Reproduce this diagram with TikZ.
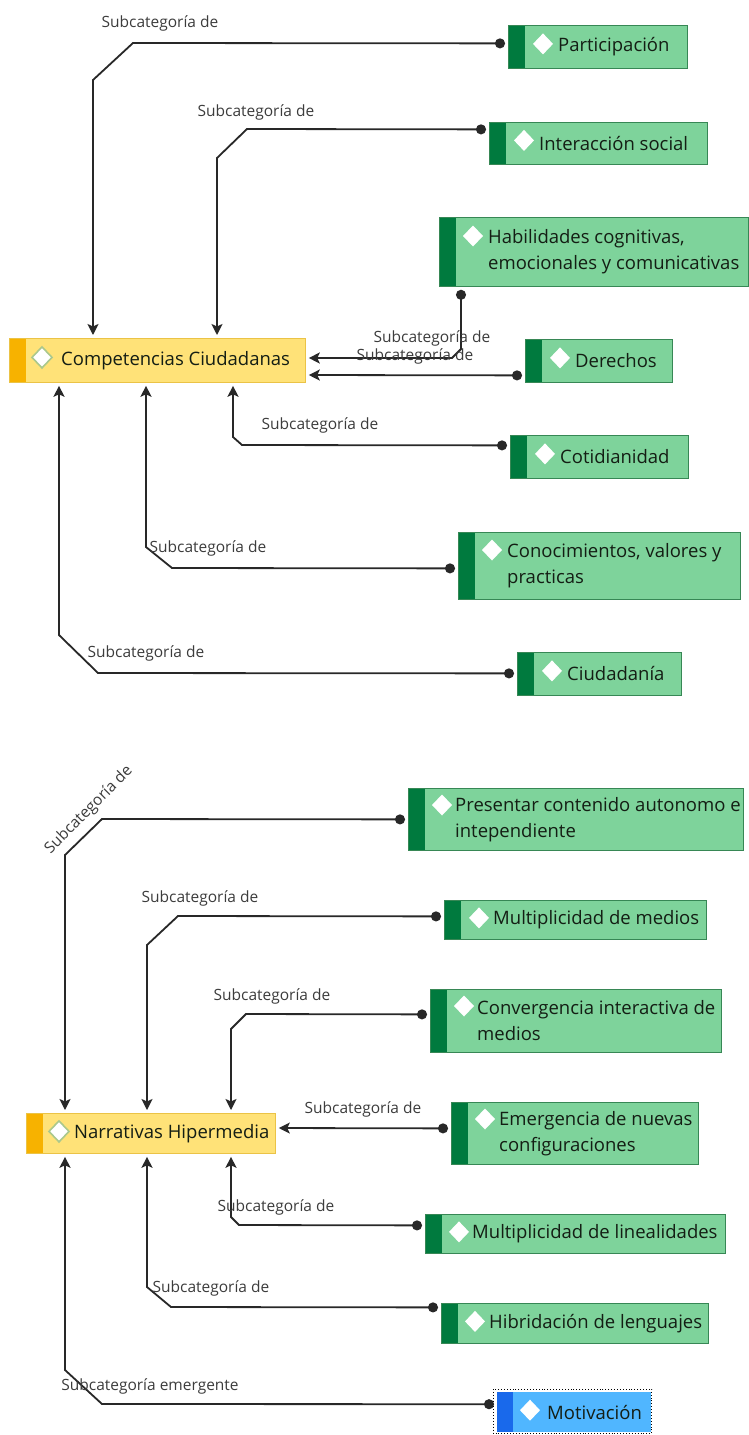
\documentclass[tikz,border=0pt]{standalone}
\usepackage{fontspec}
\setmainfont{Open Sans}
\usetikzlibrary{arrows.meta}
\definecolor{gfill}{RGB}{126,211,155}
\definecolor{gstripe}{RGB}{0,122,62}
\definecolor{gline}{RGB}{55,135,85}
\definecolor{yfill}{RGB}{255,226,120}
\definecolor{ystripe}{RGB}{247,178,0}
\definecolor{yline}{RGB}{235,195,70}
\definecolor{bfill}{RGB}{80,182,255}
\definecolor{bstripe}{RGB}{25,105,235}
\definecolor{tcol}{RGB}{20,30,20}
\definecolor{lcol}{RGB}{60,60,60}
\definecolor{ccol}{RGB}{40,40,40}
\definecolor{dline}{RGB}{170,200,140}
\tikzset{
  basebox/.style={rectangle, inner sep=0pt, anchor=north west},
  gbox/.style={basebox, draw=gline, line width=0.8pt, fill=gfill,
    path picture={\fill[gstripe] (path picture bounding box.north west) rectangle ([xshift=17pt]path picture bounding box.south west);}},
  ybox/.style={basebox, draw=yline, line width=0.8pt, fill=yfill,
    path picture={\fill[ystripe] (path picture bounding box.north west) rectangle ([xshift=17pt]path picture bounding box.south west);}},
  bbox/.style={basebox, fill=bfill,
    path picture={\fill[bstripe] (path picture bounding box.north west) rectangle ([xshift=16pt]path picture bounding box.south west);}},
  txt/.style={anchor=west, inner sep=0pt, align=left, text=tcol, font=\fontsize{18.5}{26}\selectfont},
  lab/.style={inner sep=1pt, text=lcol, font=\fontsize{15.5}{18}\selectfont},
  con/.style={draw=ccol, line width=1.8pt, {Circle[length=10pt]}-{Stealth[length=11pt,width=11pt,inset=2.5pt]}, shorten <=3pt, shorten >=3pt},
  dw/.pic={\fill[white] (-10pt,0pt)--(0pt,10.5pt)--(10pt,0pt)--(0pt,-10.5pt)--cycle;},
  dy/.pic={\filldraw[fill=white, draw=dline, line width=1.6pt] (-10pt,0pt)--(0pt,10.5pt)--(10pt,0pt)--(0pt,-10.5pt)--cycle;},
}
\begin{document}
\begin{tikzpicture}[x=1pt,y=-1pt]
\useasboundingbox (0,0) rectangle (749,1435);
\fill[white] (0,0) rectangle (749,1435);

% ---------- top group ----------
\node[ybox, minimum width=296pt, minimum height=44pt] (comp) at (9,338) {};
\pic at ([xshift=33pt,yshift=3pt]comp.west) {dy};
\node[txt] (tcomp) at ([xshift=52pt]comp.west) {Competencias Ciudadanas};

\node[gbox, minimum width=179pt, minimum height=43pt] (par) at (508,25) {};
\pic at ([xshift=35pt,yshift=3pt]par.west) {dw};
\node[txt] (tpar) at ([xshift=50pt]par.west) {Participación};

\node[gbox, minimum width=218pt, minimum height=42pt] (int) at (489,122) {};
\pic at ([xshift=35pt,yshift=3pt]int.west) {dw};
\node[txt] (tint) at ([xshift=50pt]int.west) {Interacción social};

\node[gbox, minimum width=309pt, minimum height=69pt] (hab) at (439,217) {};
\pic at ([xshift=34pt,yshift=-19pt]hab.north west) {dw};
\node[txt] (thab) at ([xshift=49pt]hab.west) {Habilidades cognitivas,\\emocionales y comunicativas};

\node[gbox, minimum width=147pt, minimum height=43pt] (der) at (525,339) {};
\pic at ([xshift=35pt,yshift=3pt]der.west) {dw};
\node[txt] (tder) at ([xshift=50pt]der.west) {Derechos};

\node[gbox, minimum width=178pt, minimum height=43pt] (cot) at (510,435) {};
\pic at ([xshift=35pt,yshift=3pt]cot.west) {dw};
\node[txt] (tcot) at ([xshift=50pt]cot.west) {Cotidianidad};

\node[gbox, minimum width=282pt, minimum height=67pt] (con) at (458,532) {};
\pic at ([xshift=34pt,yshift=-18pt]con.north west) {dw};
\node[txt] (tcon) at ([xshift=49pt]con.west) {Conocimientos, valores y\\practicas};

\node[gbox, minimum width=164pt, minimum height=43pt] (ciu) at (517,652) {};
\pic at ([xshift=35pt,yshift=3pt]ciu.west) {dw};
\node[txt] (tciu) at ([xshift=50pt]ciu.west) {Ciudadanía};

\draw[con] ([yshift=3.5pt]par.west) -- (133,43) -- (93,80) -- ([xshift=84pt]comp.north west);
\draw[con] ([yshift=14pt]int.west) -- (247,129) -- (217,158) -- ([xshift=208pt]comp.north west);
\draw[con] ([xshift=22pt]hab.south west) -- (461,349) -- (452,358) -- ([yshift=-20pt]comp.north east);
\draw[con] ([yshift=-14.5pt]der.west) -- ([yshift=-37pt]comp.north east);
\draw[con] ([yshift=11.5pt]cot.west) -- (242,445) -- (233,437) -- ([xshift=224pt]comp.south west);
\draw[con] ([yshift=-2.5pt]con.west) -- (172,568) -- (146,547) -- ([xshift=137pt]comp.south west);
\draw[con] ([yshift=0.5pt]ciu.west) -- (98,673) -- (59,635) -- ([xshift=50pt]comp.south west);

\node[lab] (l1) at (160,23) {Subcategoría de};
\node[lab] (l2) at (256,112) {Subcategoría de};
\node[lab] (l3) at (432,338) {Subcategoría de};
\node[lab] (l4) at (415,356) {Subcategoría de};
\node[lab] (l5) at (320,425) {Subcategoría de};
\node[lab] (l6) at (208,548) {Subcategoría de};
\node[lab] (l7) at (146,653) {Subcategoría de};

% ---------- bottom group ----------
\node[ybox, minimum width=249pt, minimum height=40pt] (nar) at (26,1113) {};
\pic at ([xshift=33pt,yshift=2pt]nar.west) {dy};
\node[txt] (tnar) at ([xshift=48pt]nar.west) {Narrativas Hipermedia};

\node[gbox, minimum width=335pt, minimum height=62pt] (pre) at (408,788) {};
\pic at ([xshift=34pt,yshift=-17pt]pre.north west) {dw};
\node[txt] (tpre) at ([xshift=47pt]pre.west) {Presentar contenido autonomo e\\intependiente};

\node[gbox, minimum width=262pt, minimum height=39pt] (mme) at (444,900) {};
\pic at ([xshift=35pt,yshift=2pt]mme.west) {dw};
\node[txt] (tmme) at ([xshift=49pt]mme.west) {Multiplicidad de medios};

\node[gbox, minimum width=291pt, minimum height=63pt] (cnv) at (430,989) {};
\pic at ([xshift=34pt,yshift=-17pt]cnv.north west) {dw};
\node[txt] (tcnv) at ([xshift=47pt]cnv.west) {Convergencia interactiva de\\medios};

\node[gbox, minimum width=247pt, minimum height=62pt] (eme) at (451,1102) {};
\pic at ([xshift=34pt,yshift=-17pt]eme.north west) {dw};
\node[txt] (teme) at ([xshift=48pt]eme.west) {Emergencia de nuevas\\configuraciones};

\node[gbox, minimum width=300pt, minimum height=39pt] (mli) at (425,1214) {};
\pic at ([xshift=34pt,yshift=2pt]mli.west) {dw};
\node[txt] (tmli) at ([xshift=47pt]mli.west) {Multiplicidad de linealidades};

\node[gbox, minimum width=267pt, minimum height=40pt] (hib) at (441,1303) {};
\pic at ([xshift=34pt,yshift=2pt]hib.west) {dw};
\node[txt] (thib) at ([xshift=48pt]hib.west) {Hibridación de lenguajes};

\node[bbox, minimum width=154pt, minimum height=40pt] (mot) at (497,1392) {};
\draw[black, line width=0.9pt, dotted] ([xshift=-3.5pt,yshift=3pt]mot.north west) rectangle ([xshift=0.5pt,yshift=-1pt]mot.south east);
\pic at ([xshift=33pt,yshift=2pt]mot.west) {dw};
\node[txt] (tmot) at ([xshift=50pt]mot.west) {Motivación};

\draw[con] (pre.west) -- (102,819) -- (65,855) -- ([xshift=39pt]nar.north west);
\draw[con] ([yshift=3.5pt]mme.west) -- (178,916) -- (147,945) -- ([xshift=121pt]nar.north west);
\draw[con] ([yshift=6.5pt]cnv.west) -- (246,1014) -- (231,1029) -- ([xshift=205pt]nar.north west);
\draw[con] ([yshift=5pt]eme.west) -- ([yshift=-15pt]nar.north east);
\draw[con] ([yshift=8.5pt]mli.west) -- (239,1225) -- (231,1217) -- ([xshift=205pt]nar.south west);
\draw[con] ([yshift=16pt]hib.west) -- (171,1307) -- (147,1287) -- ([xshift=121pt]nar.south west);
\draw[con] ([yshift=8pt]mot.west) -- (102,1404) -- (65,1370) -- ([xshift=39pt]nar.south west);

\node[lab, rotate=45] (l8) at (89,810) {Subcategoría de};
\node[lab] (l9) at (200,898) {Subcategoría de};
\node[lab] (l10) at (272,996) {Subcategoría de};
\node[lab] (l11) at (363,1109) {Subcategoría de};
\node[lab] (l12) at (276,1207) {Subcategoría de};
\node[lab] (l13) at (211,1288) {Subcategoría de};
\node[lab] (l14) at (150,1386) {Subcategoría emergente};
\end{tikzpicture}
\end{document}
